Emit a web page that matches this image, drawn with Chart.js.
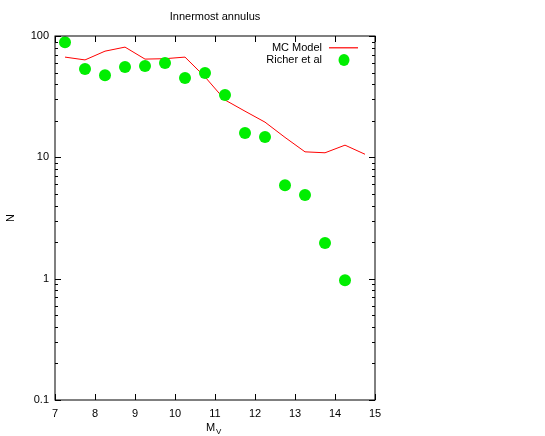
<!DOCTYPE html>
<html>
<head>
<meta charset="utf-8">
<script src="https://cdn.jsdelivr.net/npm/chart.js@4/dist/chart.umd.min.js"></script>
<style>
  body { margin: 0; background: #fff; }
  canvas { display: block; }
</style>
</head>
<body>
<canvas id="chart" width="545" height="436"></canvas>
<script>
// MC Model (line)
const modelMv = [7.25, 7.75, 8.25, 8.75, 9.25, 9.75, 10.25, 10.75, 11.25, 11.75, 12.25, 12.75, 13.25, 13.75, 14.25, 14.75];
const modelN = [67, 63.5, 75, 81, 64.5, 65, 67, 46, 29.7, 24, 19.5, 14.6, 11.1, 10.9, 12.6, 10.6];

// Richer et al (points)
const richerMv = [7.25, 7.75, 8.25, 8.75, 9.25, 9.75, 10.25, 10.75, 11.25, 11.75, 12.25, 12.75, 13.25, 13.75, 14.25];
const richerN = [89, 53.5, 47.5, 55.5, 56.5, 60, 45, 49.5, 32.6, 15.9, 14.7, 5.9, 4.9, 1.97, 0.97];

const xTicks = [7, 8, 9, 10, 11, 12, 13, 14, 15];
const yDecades = [0.1, 1, 10, 100];

const titleText = 'Innermost annulus';
const modelLabel = 'MC Model';
const richerLabel = 'Richer et al';
const MODEL_COLOR = '#ff0000';
const POINT_COLOR = '#00ee00';
const FAMILY = '"Liberation Sans", Arial, sans-serif';
const FONT = '11px ' + FAMILY;

function toPoints(xs, ys) {
    return xs.map((x, i) => ({ x: x, y: ys[i] }));
}

// gnuplot style frame, inward ticks, legend and labels
const gnuplotFrame = {
    id: 'gnuplotFrame',
    afterDraw(chart) {
        const ctx = chart.ctx;
        const area = chart.chartArea;
        const xs = chart.scales.x;
        const ys = chart.scales.y;
        ctx.save();
        ctx.strokeStyle = '#000';
        ctx.lineWidth = 1;
        ctx.strokeRect(area.left, area.top, area.right - area.left, area.bottom - area.top);

        ctx.beginPath();
        xTicks.forEach(v => {
            const px = Math.round(xs.getPixelForValue(v)) + 0.5;
            ctx.moveTo(px, area.bottom);
            ctx.lineTo(px, area.bottom - 6);
            ctx.moveTo(px, area.top);
            ctx.lineTo(px, area.top + 6);
        });
        yDecades.forEach((dec, di) => {
            for (let k = 1; k <= 9; k++) {
                if (di === yDecades.length - 1 && k > 1) break;
                const py = Math.round(ys.getPixelForValue(dec * k)) + 0.5;
                const len = k === 1 ? 6 : 3;
                ctx.moveTo(area.left, py);
                ctx.lineTo(area.left + len, py);
                ctx.moveTo(area.right, py);
                ctx.lineTo(area.right - len, py);
            }
        });
        ctx.stroke();

        ctx.fillStyle = '#000';
        ctx.font = FONT;
        // title
        ctx.textAlign = 'center';
        ctx.textBaseline = 'middle';
        ctx.fillText(titleText, (area.left + area.right) / 2, 17);

        // y axis label
        ctx.save();
        ctx.translate(11, (area.top + area.bottom) / 2);
        ctx.rotate(-Math.PI / 2);
        ctx.fillText('N', 0, 0);
        ctx.restore();

        // x axis label M_V
        const cx = (area.left + area.right) / 2 - 4;
        ctx.textAlign = 'left';
        ctx.fillText('M', cx - 5, 428);
        ctx.font = '8px ' + FAMILY;
        ctx.fillText('V', cx + 5, 432);

        // legend
        ctx.font = FONT;
        ctx.textAlign = 'right';
        ctx.fillText(modelLabel, 322, 48);
        ctx.fillText(richerLabel, 322, 60);
        ctx.strokeStyle = MODEL_COLOR;
        ctx.lineWidth = 1.2;
        ctx.beginPath();
        ctx.moveTo(329, 47.8);
        ctx.lineTo(358, 47.8);
        ctx.stroke();
        ctx.fillStyle = POINT_COLOR;
        ctx.beginPath();
        ctx.ellipse(344, 60, 5.5, 6, 0, 0, Math.PI * 2);
        ctx.fill();
        ctx.restore();
    }
};

new Chart(document.getElementById('chart'), {
    type: 'line',
    data: {
        datasets: [
            {
                label: modelLabel,
                data: toPoints(modelMv, modelN),
                borderColor: MODEL_COLOR,
                borderWidth: 1,
                pointRadius: 0,
                tension: 0,
                fill: false,
                order: 1
            },
            {
                label: richerLabel,
                data: toPoints(richerMv, richerN),
                showLine: false,
                backgroundColor: POINT_COLOR,
                borderWidth: 0,
                pointRadius: 6,
                pointHoverRadius: 6,
                order: 0
            }
        ]
    },
    options: {
        responsive: false,
        animation: false,
        devicePixelRatio: 1,
        layout: {
            padding: { left: 0, right: 170, top: 36, bottom: 0 }
        },
        plugins: {
            legend: { display: false },
            title: { display: false },
            tooltip: { enabled: false }
        },
        scales: {
            x: {
                type: 'linear',
                min: 7,
                max: 15,
                grid: { display: false, drawTicks: false, tickLength: 0 },
                border: { display: false },
                ticks: {
                    stepSize: 1,
                    color: '#000',
                    font: { family: FAMILY, size: 11 },
                    padding: 7,
                    maxRotation: 0
                },
                afterFit(scale) { scale.height = 36; }
            },
            y: {
                type: 'logarithmic',
                min: 0.1,
                max: 100,
                grid: { display: false, drawTicks: false, tickLength: 0 },
                border: { display: false },
                ticks: {
                    autoSkip: false,
                    color: '#000',
                    font: { family: FAMILY, size: 11 },
                    padding: 6,
                    callback: function (v) {
                        const l = Math.log10(v);
                        return Math.abs(l - Math.round(l)) < 1e-9 ? String(v) : '';
                    }
                },
                afterFit(scale) { scale.width = 55; }
            }
        }
    },
    plugins: [gnuplotFrame]
});
</script>
</body>
</html>
